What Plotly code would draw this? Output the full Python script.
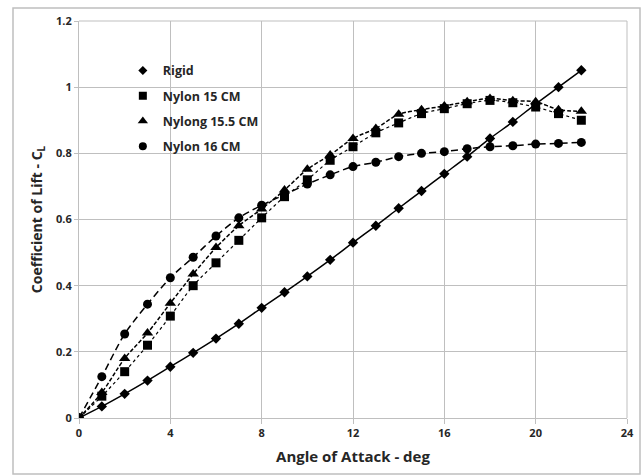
import plotly.graph_objects as go

angle = list(range(0, 23))
rigid = [0, 0.035, 0.073, 0.113, 0.155, 0.197, 0.24, 0.285, 0.333, 0.38, 0.428, 0.478,
         0.53, 0.581, 0.634, 0.686, 0.738, 0.79, 0.845, 0.895, 0.949, 1.0, 1.051]
nylon15 = [0, 0.066, 0.14, 0.22, 0.308, 0.40, 0.469, 0.537, 0.605, 0.669, 0.72, 0.779,
           0.82, 0.862, 0.892, 0.92, 0.935, 0.95, 0.96, 0.953, 0.94, 0.92, 0.90]
nylon155 = [0, 0.077, 0.18, 0.257, 0.347, 0.435, 0.515, 0.581, 0.632, 0.689, 0.752, 0.795,
            0.845, 0.875, 0.918, 0.932, 0.943, 0.956, 0.966, 0.959, 0.956, 0.932, 0.927]
nylon16 = [0, 0.125, 0.254, 0.344, 0.424, 0.486, 0.55, 0.605, 0.643, 0.675, 0.707, 0.735,
           0.76, 0.773, 0.79, 0.80, 0.805, 0.814, 0.82, 0.823, 0.828, 0.83, 0.833]

series = [
    ("Rigid", rigid, "diamond", 8, "solid", 1.5),
    ("Nylon 15 CM", nylon15, "square", 9, "dot", 1.2),
    ("Nylong 15.5 CM", nylon155, "triangle-up", 10, "4px,2px", 1.5),
    ("Nylon 16 CM", nylon16, "circle", 9, "7px,4px", 1.5),
]

fig = go.Figure()
for i, (name, vals, sym, sz, dash, w) in enumerate(series):
    fig.add_trace(go.Scatter(
        x=angle, y=vals, name=name, mode="lines+markers",
        line=dict(color="black", dash=dash, width=w, shape="spline", smoothing=0.8),
        marker=dict(symbol=sym, size=sz, color="black"),
        showlegend=False,
    ))
for i, (name, vals, sym, sz, dash, w) in enumerate(series):
    fig.add_trace(go.Scatter(
        x=[None], y=[None], name=name, mode="markers",
        marker=dict(symbol=sym, size=sz - 1, color="black"),
        legendgroup=f"g{i}", showlegend=True,
    ))

grid = "#BFBFBF"
fig.update_layout(
    width=644, height=475,
    margin=dict(l=79, r=17, t=21, b=57, autoexpand=False),
    paper_bgcolor="white", plot_bgcolor="white",
    font=dict(family="Open Sans", color="#262626"),
    showlegend=True,
    legend=dict(x=0.08, y=0.912, xanchor="left", yanchor="top",
                bgcolor="rgba(0,0,0,0)", font=dict(size=12.5, weight="bold", color="#262626"),
                tracegroupgap=6, traceorder="grouped", itemwidth=30),
    xaxis=dict(range=[0, 24], tickvals=[0, 4, 8, 12, 16, 20, 24], showgrid=True,
               gridcolor=grid, gridwidth=1, zeroline=False, showline=True, linecolor=grid,
               mirror=False, ticks="outside", ticklen=5, tickcolor=grid, automargin=False,
               tickfont=dict(size=11, weight="bold"),
               title=dict(text="Angle of Attack - deg", font=dict(size=15, weight="bold"), standoff=12)),
    yaxis=dict(range=[0, 1.2], tickvals=[0, 0.2, 0.4, 0.6, 0.8, 1, 1.2],
               ticktext=["0", "0.2", "0.4", "0.6", "0.8", "1", "1.2"], showgrid=True,
               gridcolor=grid, gridwidth=1, zeroline=False, showline=True, linecolor=grid,
               ticks="outside", ticklen=4, tickcolor=grid, automargin=False,
               tickfont=dict(size=11, weight="bold"),
               title=dict(text="Coefficient of Lift - C<sub>L</sub>", font=dict(size=14, weight="bold"), standoff=10)),
    shapes=[
        dict(type="line", xref="paper", yref="paper", x0=1, x1=1, y0=0, y1=1,
             line=dict(color=grid, width=1)),
        dict(type="line", xref="paper", yref="paper", x0=0, x1=1, y0=1, y1=1,
             line=dict(color=grid, width=1)),
        dict(type="rect", xref="paper", yref="paper",
             x0=(13 - 79) / 548, x1=(640 - 79) / 548,
             y0=(418 - 474) / 397, y1=(418 - 8) / 397,
             line=dict(color="#BFBFBF", width=1.5), fillcolor="rgba(0,0,0,0)", layer="above"),
    ],
)
fig.write_html("out.html", config={"displayModeBar": False},
               post_script="document.body.style.margin='0';")
